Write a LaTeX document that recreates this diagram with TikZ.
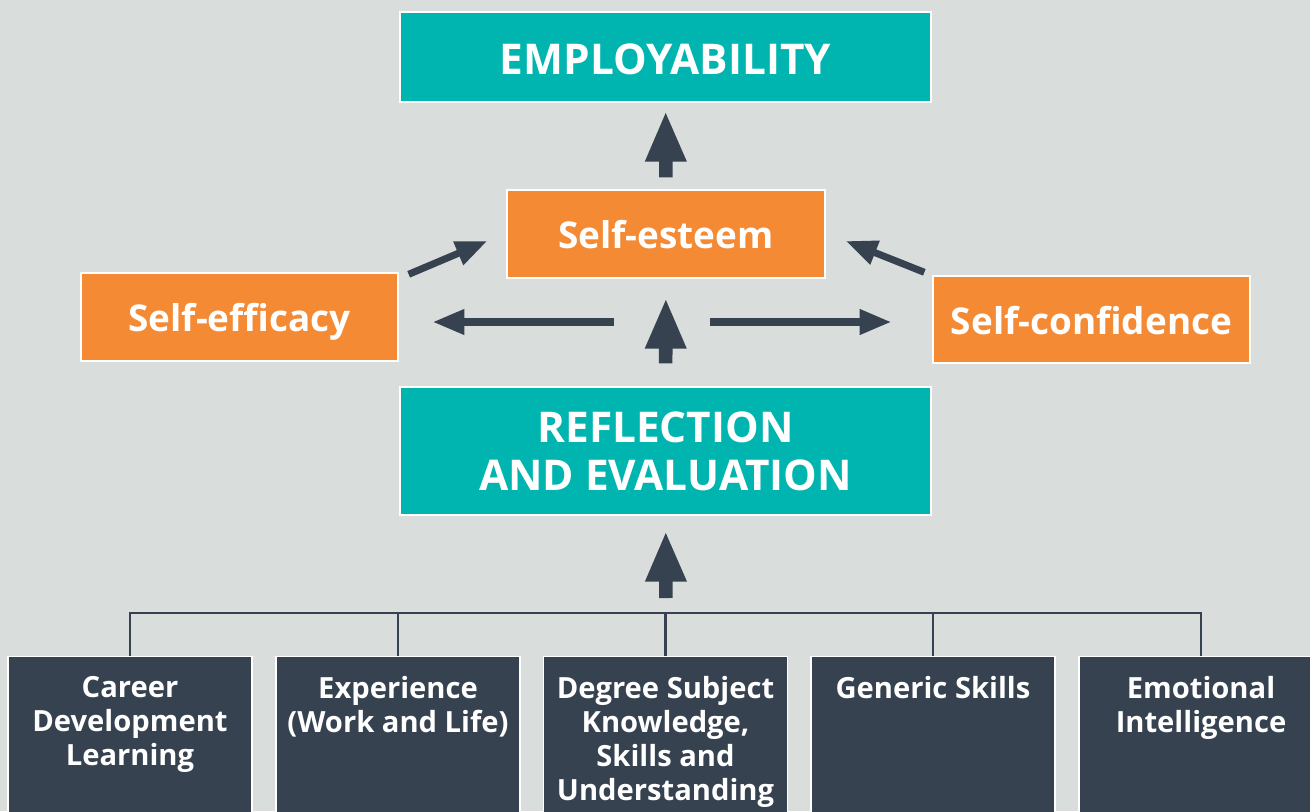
\documentclass[tikz,border=0pt]{standalone}
\usepackage{fontspec}
\setmainfont{Open Sans}
\usepackage{tikz}
\usetikzlibrary{arrows.meta}
\usetikzlibrary{positioning}

\definecolor{bggrey}{HTML}{D9DDDC}
\definecolor{tealbox}{HTML}{00B5AF}
\definecolor{orangebox}{HTML}{F58A34}
\definecolor{slate}{HTML}{36424F}

\begin{document}
\begin{tikzpicture}[x=0.02cm,y=-0.02cm,
  mainbox/.style={fill=tealbox,draw=white,line width=0.8pt,inner sep=0pt,text=white,
    font=\bfseries\fontsize{24.1}{27.2}\selectfont,align=center,minimum width=10.62cm},
  selfbox/.style={fill=orangebox,draw=white,line width=0.8pt,inner sep=0pt,text=white,
    font=\bfseries\fontsize{21}{25}\selectfont,minimum width=6.34cm,minimum height=1.76cm,
    text height=17pt,text depth=0pt},
  basebox/.style={fill=slate,draw=white,line width=0.8pt,anchor=north,
    minimum width=4.88cm,minimum height=3.6cm},
  basetext/.style={text=white,font=\bfseries\fontsize{16.6}{19.3}\selectfont,
    align=center,inner sep=0pt,anchor=north,yshift=-0.4cm},
  fatarrow/.style={slate,line width=7.7pt,-{Triangle[length=29pt,width=21.5pt]}},
  thinarrow/.style={slate,line width=4pt,-{Triangle[length=18pt,width=13.6pt]}},
  bus/.style={slate,line width=1.2pt}]
          \useasboundingbox (0,0) rectangle (1310,811);
          \clip (0,0) rectangle (1310,811);
          \fill[bggrey] (0,0) rectangle (1310,811);

          % top row
          \node[mainbox,minimum height=1.8cm,text height=20.1pt,text depth=0pt] (employ) at (665.5,57) {EMPLOYABILITY};
          \node[selfbox,minimum width=6.36cm] (esteem) at (666,234) {Self-esteem};
          \node[selfbox] (efficacy) at (239.5,317) {Self-efficacy};
          \node[selfbox,minimum height=1.74cm] (confidence) at (1091.5,319.5) {Self-confidence};
          \node[mainbox,minimum height=2.56cm] (reflect) at (665.5,451) {REFLECTION\\AND EVALUATION};

          % bottom row
          \node[basebox,label={[basetext]north:{Career\\Development\\Learning}}] (career) at (130,656) {};
          \node[basebox,label={[basetext]north:{Experience\\(Work and Life)}}] (experience) at (398,656) {};
          \node[basebox,label={[basetext]north:{Degree Subject\\Knowledge,\\Skills and\\Understanding}}] (degree) at (665.5,656) {};
          \node[basebox,label={[basetext]north:{Generic Skills}}] (generic) at (933,656) {};
          \node[basebox,label={[basetext]north:{Emotional\\Intelligence}}] (emotional) at (1201,656) {};

          \coordinate (hub) at (666,322);
          \coordinate (bus) at (666,613);

          % connectors
          \draw[bus] (career.north) -- (career.north |- bus) -- (emotional.north |- bus) -- (emotional.north);
          \foreach \n in {experience,degree,generic}
            \draw[bus] (\n.north) -- (\n.north |- bus);

          \draw[fatarrow,shorten <=0.3cm,shorten >=0.3cm] (bus) -- (reflect);
          \draw[fatarrow,shorten <=0.46cm,shorten >=0.38cm] (reflect) -- (esteem);
          \draw[fatarrow,shorten <=0.24cm,shorten >=0.16cm] (esteem) -- (employ);

          \draw[thinarrow,shorten <=1.04cm,shorten >=0.68cm] (hub) -- (hub -| efficacy.east);
          \draw[thinarrow,shorten <=0.88cm,shorten >=0.82cm] (hub) -- (hub -| confidence.west);
          \draw[thinarrow] ([shift={(10,2)}]efficacy.north east) -- ([shift={(-19,7)}]esteem.west);
          \draw[thinarrow] ([shift={(-8,-3)}]confidence.north west) -- ([shift={(20,7)}]esteem.east);
\end{tikzpicture}
\end{document}
